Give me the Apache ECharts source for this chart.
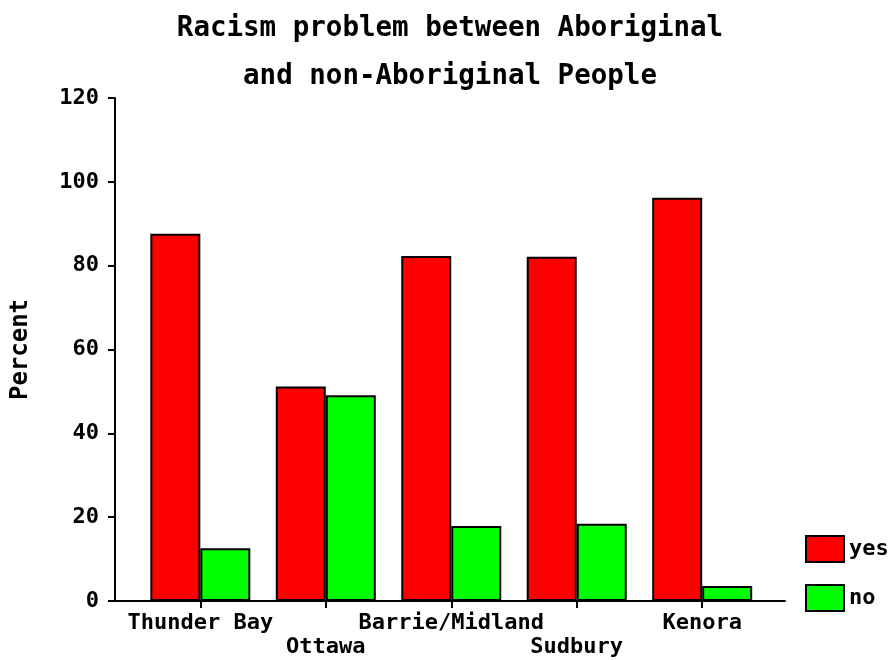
<!DOCTYPE html>
<html>
<head>
<meta charset="utf-8">
<script src="https://cdn.jsdelivr.net/npm/echarts@6/dist/echarts.min.js"></script>
<style>html,body{margin:0;padding:0;background:#fff}#c{width:888px;height:660px}</style>
</head>
<body>
<div id="c"></div>
<script>
const categories = ['Thunder Bay', 'Ottawa', 'Barrie/Midland', 'Sudbury', 'Kenora'];
const yesValues = [87.6, 51.2, 82.3, 82.1, 96.2];
const noValues = [12.6, 49.1, 17.9, 18.4, 3.6];
const yTicks = [0, 20, 40, 60, 80, 100, 120];
const seriesNames = ['yes', 'no'];

const FONT = '"DejaVu Sans Mono", monospace';
const chart = echarts.init(document.getElementById('c'), null, {renderer: 'canvas'});
const idx = categories.map((_, i) => i);
chart.setOption({
  animation: false,
  backgroundColor: '#fff',
  title: {
    text: 'Racism problem between Aboriginal\nand non-Aboriginal People',
    left: 445, top: 0, textAlign: 'center',
    textStyle: {fontFamily: FONT, fontSize: 27.5, fontWeight: 'bold', color: '#000', lineHeight: 48}
  },
  legend: {
    data: seriesNames,
    orient: 'vertical',
    left: 800, top: 530,
    icon: 'rect',
    itemWidth: 38, itemHeight: 26, itemGap: 21,
    textStyle: {fontFamily: FONT, fontSize: 22, fontWeight: 'bold', color: '#000', padding: [6, 0, 0, 0]}
  },
  grid: {left: 115, right: 103, top: 98, bottom: 59, containLabel: false, outerBoundsMode: 'none'},
  xAxis: {
    type: 'value', min: -0.68, max: 4.66,
    splitLine: {show: false},
    axisLine: {show: true, lineStyle: {color: '#000', width: 2}},
    axisTick: {show: true, customValues: idx, length: 7, lineStyle: {color: '#000', width: 2}},
    axisLabel: {
      customValues: idx, margin: 10, lineHeight: 24,
      fontFamily: FONT, fontSize: 22, fontWeight: 'bold', color: '#000',
      formatter: v => (Math.round(v) % 2 === 1 ? '\n' : '') + categories[Math.round(v)]
    }
  },
  yAxis: {
    type: 'value', min: 0, max: 120, interval: 20,
    name: 'Percent', nameLocation: 'middle', nameGap: 82, nameRotate: 90,
    nameTextStyle: {fontFamily: FONT, fontSize: 24, fontWeight: 'bold', color: '#000'},
    splitLine: {show: false},
    axisLine: {show: true, onZero: false, lineStyle: {color: '#000', width: 2}},
    axisTick: {show: true, length: 7, lineStyle: {color: '#000', width: 2}},
    axisLabel: {margin: 16, fontFamily: FONT, fontSize: 22, fontWeight: 'bold', color: '#000',
      formatter: v => yTicks.includes(v) ? String(v) : ''}
  },
  series: [
    {name: seriesNames[0], type: 'bar', barWidth: 50, barGap: '0%',
      data: yesValues.map((v, i) => [i, v]),
      itemStyle: {color: '#ff0000', borderColor: '#000', borderWidth: 2}},
    {name: seriesNames[1], type: 'bar', barWidth: 50, barGap: '0%',
      data: noValues.map((v, i) => [i, v]),
      itemStyle: {color: '#00ff00', borderColor: '#000', borderWidth: 2}}
  ]
});
</script>
</body>
</html>
